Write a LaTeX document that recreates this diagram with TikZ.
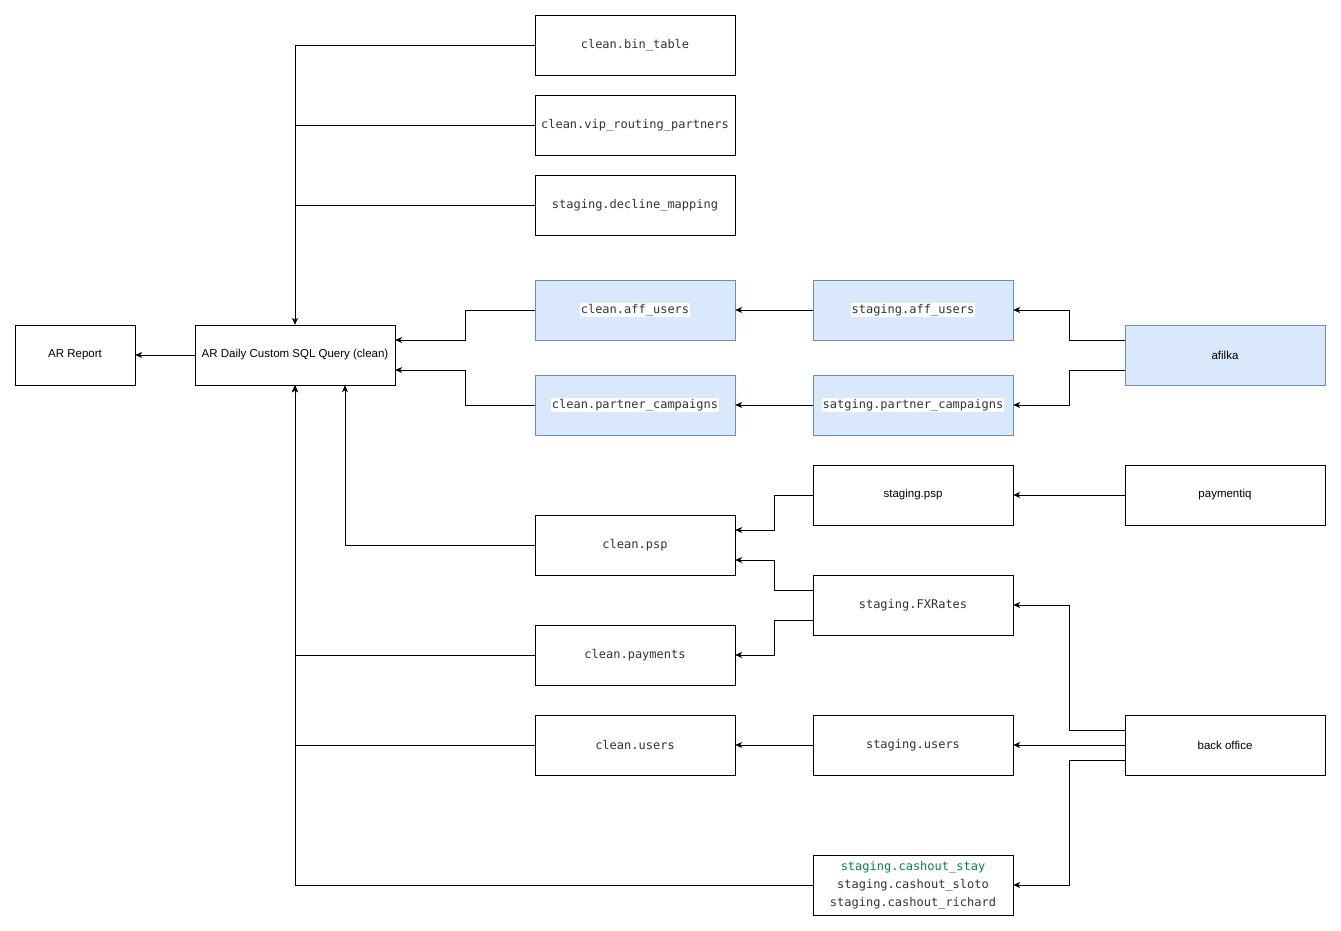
\documentclass[tikz,border=0pt]{standalone}
\usepackage{fontspec}
\setmainfont{Liberation Sans}
\setmonofont{DejaVu Sans Mono}
\usetikzlibrary{arrows.meta}
\definecolor{bfill}{HTML}{DAE8FC}
\definecolor{bdraw}{HTML}{6C8EBF}
\definecolor{tgray}{HTML}{333333}
\definecolor{tgreen}{HTML}{00873E}
\begin{document}
\begin{tikzpicture}[x=1pt,y=-1pt,
  box/.style={draw=black,fill=white,minimum width=200pt,minimum height=60pt,inner sep=0pt,font=\fontsize{11.5}{14}\selectfont,align=center},
  mono/.style={box,font=\fontsize{12}{18}\selectfont\ttfamily,text=tgray},
  blue/.style={mono,fill=bfill,draw=bdraw},
  arr/.style={-{Stealth[length=7pt,width=6pt,inset=2pt]},line width=0.8pt},
  ln/.style={line width=0.8pt}]
\useasboundingbox (0,0) rectangle (1341,931);
\newcommand{\wb}[1]{{\setlength{\fboxsep}{1pt}\colorbox{white}{#1}}}
\node[mono] (bin) at (635,45) {clean.bin\_table};
\node[mono] (vip) at (635,125) {clean.vip\_routing\_partners};
\node[mono] (dec) at (635,205) {staging.decline\_mapping};
\node[blue] (caff) at (635,310) {\wb{clean.aff\_users}};
\node[blue] (cpc) at (635,405) {\wb{clean.partner\_campaigns}};
\node[blue] (saff) at (913,310) {\wb{staging.aff\_users}};
\node[blue] (spc) at (913,405) {\wb{satging.partner\_campaigns}};
\node[box,fill=bfill,draw=bdraw] (afilka) at (1225,355) {afilka};
\node[box,minimum width=120pt] (ar) at (75,355) {AR Report};
\node[box] (q) at (295,355) {AR Daily Custom SQL Query (clean)};
\node[box] (spsp) at (913,495) {staging.psp};
\node[box] (piq) at (1225,495) {paymentiq};
\node[mono] (cpsp) at (635,545) {clean.psp};
\node[mono] (fx) at (913,605) {staging.FXRates};
\node[mono] (pay) at (635,655) {clean.payments};
\node[mono] (cu) at (635,745) {clean.users};
\node[mono] (su) at (913,745) {staging.users};
\node[box] (bo) at (1225,745) {back office};
\node[mono] (co) at (913,885) {\textcolor{tgreen}{staging.cashout\_stay}\\staging.cashout\_sloto\\staging.cashout\_richard};
% top tables
\draw[arr] (bin.west) -| (q.north);
\draw[ln] (vip.west) -- (295,125);
\draw[ln] (dec.west) -- (295,205);
% blue
\draw[arr] (caff.west) -- (465,310) -- (465,340) -- (q.east |- 0,340);
\draw[arr] (cpc.west) -- (465,405) -- (465,370) -- (q.east |- 0,370);
\draw[arr] (saff) -- (caff);
\draw[arr] (spc) -- (cpc);
\draw[arr] (afilka.west |- 0,340) -- (1069,340) -- (1069,310) -- (saff.east);
\draw[arr] (afilka.west |- 0,370) -- (1069,370) -- (1069,405) -- (spc.east);
\draw[arr] (q) -- (ar);
% psp
\draw[arr] (piq) -- (spsp);
\draw[arr] (spsp.west) -- (774,495) -- (774,530) -- (cpsp.east |- 0,530);
\draw[arr] (fx.west |- 0,590) -- (774,590) -- (774,560) -- (cpsp.east |- 0,560);
\draw[arr] (fx.west |- 0,620) -- (774,620) -- (774,655) -- (pay.east);
\draw[arr] (cpsp.west) -| (q.south -| 345,0);
\draw[arr] (pay.west) -| (q.south);
\draw[arr] (cu.west) -| (q.south);
\draw[arr] (co.west) -| (q.south);
% back office
\draw[arr] (bo.west |- 0,730) -- (1069,730) -- (1069,605) -- (fx.east);
\draw[arr] (bo.west) -- (su.east);
\draw[arr] (bo.west |- 0,760) -- (1069,760) -- (1069,885) -- (co.east);
\draw[arr] (su) -- (cu);
\end{tikzpicture}
\end{document}
